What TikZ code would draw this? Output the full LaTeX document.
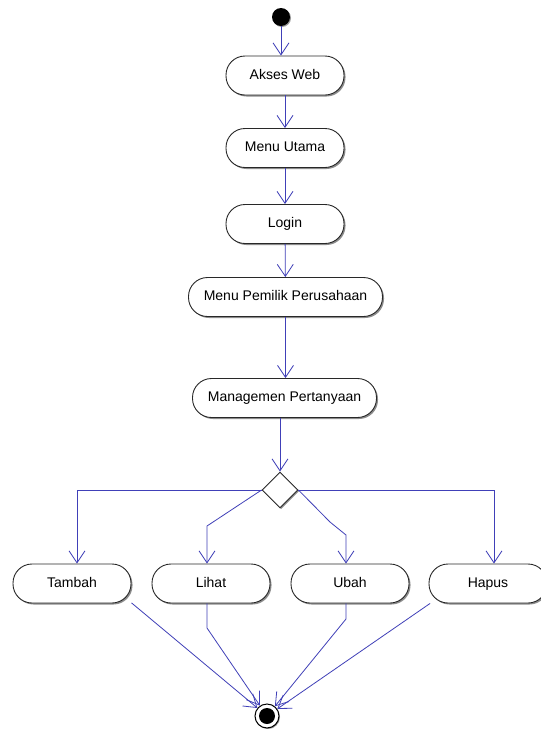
\documentclass[tikz,border=0pt]{standalone}
\usepackage{fontspec}
\setmainfont{Liberation Sans}
\usetikzlibrary{arrows.meta,shapes.geometric,shadows,calc}
\definecolor{flow}{RGB}{64,64,184}
\definecolor{edgec}{RGB}{40,40,40}
\begin{document}
\begin{tikzpicture}[x=1pt,y=-1pt,
  act/.style={draw=edgec, line width=0.9pt, fill=white, rounded corners=19pt,
    minimum height=39pt, minimum width=118pt, inner sep=0pt,
    text height=10pt, text depth=3pt,
    font=\fontsize{14}{16}\selectfont,
    drop shadow={shadow xshift=1.5pt, shadow yshift=-1.5pt, fill=black!45, opacity=1}},
  decision/.style={diamond, draw=edgec, line width=0.9pt, fill=white,
    minimum width=36pt, minimum height=36pt, inner sep=0pt,
    drop shadow={shadow xshift=1.2pt, shadow yshift=-1.2pt, fill=black!45, opacity=1}},
  flowline/.style={draw=flow, line width=0.8pt, -{Straight Barb[length=12pt,width=16pt]}},
  startdot/.style={circle, fill=black, minimum size=18pt, inner sep=0pt,
    drop shadow={shadow xshift=1pt, shadow yshift=-1pt, fill=black!40, opacity=1}},
  endring/.style={circle, draw=black, line width=1pt, fill=white, minimum size=24pt, inner sep=0pt,
    drop shadow={shadow xshift=1pt, shadow yshift=-1pt, fill=black!40, opacity=1}},
  endcore/.style={circle, fill=black, minimum size=16pt, inner sep=0pt}
]
\clip (0,0) rectangle (541,729);
\fill[white] (0,0) rectangle (541,729);

\node[startdot] (start) at (281,17) {};
\node[act] (akses) at (285,75.5) {Akses Web};
\node[act] (utama) at (285,148) {Menu Utama};
\node[act] (login) at (285,224) {Login};
\node[act, minimum width=194pt] (pemilik) at (285.5,297) {Menu Pemilik Perusahaan};
\node[act, minimum width=184pt] (manage) at (284.5,398) {Managemen Pertanyaan};
\node[decision] (dec) at (280,490) {};
\node[act] (tambah) at (72,583.5) {Tambah};
\node[act] (lihat) at (211,583.5) {Lihat};
\node[act] (ubah) at (350,583.5) {Ubah};
\node[act] (hapus) at (488,583.5) {Hapus};
\node[endring] (end) at (267,716) {};
\node[endcore] (endc) at (end) {};

\coordinate (lbend) at (207,526);
\coordinate (ubend1) at (330,522);
\coordinate (ubend2) at (346,535);
\coordinate (lb2) at (207,628);
\coordinate (ub3) at (346,619);

\draw[flowline] (start.south) -- (start.south |- akses.north);
\draw[flowline] (akses) -- (utama);
\draw[flowline] (utama) -- (login);
\draw[flowline] (login) -- (pemilik);
\draw[flowline] (pemilik) -- (pemilik.south |- manage.north);
\draw[flowline] (dec.north |- manage.south) -- (dec.north);

\draw[flowline] (dec.west) -| ([xshift=5pt]tambah.north);
\draw[flowline] (dec.west) -- (lbend) -- (lbend |- lihat.north);
\draw[flowline] (dec.east) -- (ubend1) -- (ubend2) -- (ubend2 |- ubah.north);
\draw[flowline] (dec.east) -| ([xshift=6pt]hapus.north);

\draw[flowline] (tambah.-18) -- (end);
\draw[flowline] (lb2 |- lihat.south) -- (lb2) -- (end);
\draw[flowline] (ub3 |- ubah.south) -- (ub3) -- (end);
\draw[flowline] (hapus.199) -- (end);
\end{tikzpicture}
\end{document}
